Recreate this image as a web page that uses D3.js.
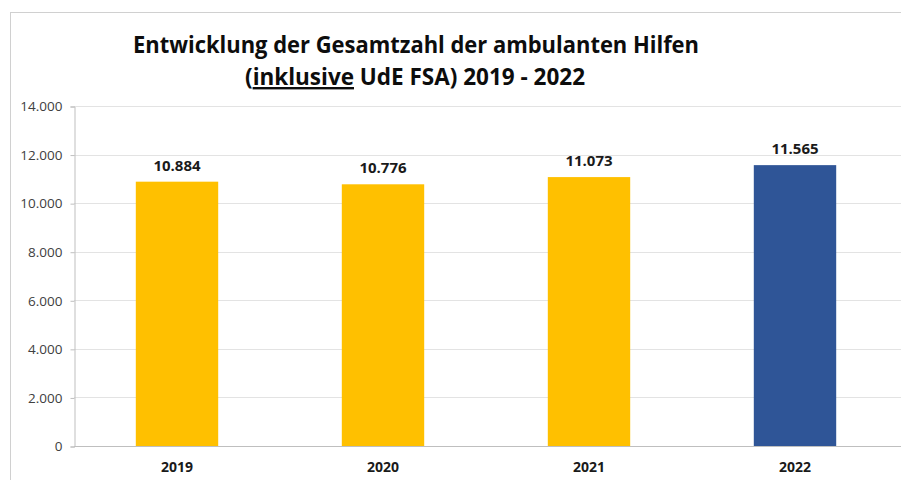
<!DOCTYPE html>
<html>
<head>
<meta charset="utf-8">
<script src="https://cdn.jsdelivr.net/npm/d3@7"></script>
<style>
    body { margin: 0; background: #fff; }
    svg { display: block; }
</style>
</head>
<body>
<div id="chart"></div>
<script>
// chart data
const years = ["2019", "2020", "2021", "2022"];
const totals = [10884, 10776, 11073, 11565];
const barColors = ["#FFC000", "#FFC000", "#FFC000", "#2F5597"];
const yTickValues = [0, 2000, 4000, 6000, 8000, 10000, 12000, 14000];
const titleLines = ["Entwicklung der Gesamtzahl der ambulanten Hilfen", "(inklusive UdE FSA) 2019 - 2022"];

const width = 901;
const height = 480;
const margin = { top: 106, right: 3, bottom: 34, left: 74 };
const font = "'Open Sans', 'Noto Sans', sans-serif";
const germanFmt = d3.formatLocale({ decimal: ",", thousands: ".", grouping: [3] }).format(",d");

const svg = d3.select("#chart")
    .append("svg")
    .attr("width", width)
    .attr("height", height);

// outer frame of the chart area
svg.append("rect")
    .attr("x", 10.5)
    .attr("y", 12.5)
    .attr("width", width + 20)
    .attr("height", height + 20)
    .attr("fill", "none")
    .attr("stroke", "#d0d0d0");

const x = d3.scaleBand()
    .domain(years)
    .range([margin.left, width - margin.right])
    .paddingInner(0.6)
    .paddingOuter(0.3);

const y = d3.scaleLinear()
    .domain([0, 14000])
    .range([height - margin.bottom, margin.top]);

// grid lines
svg.append("g")
    .selectAll("line")
    .data(yTickValues.filter(d => d > 0))
    .join("line")
    .attr("x1", margin.left)
    .attr("x2", width)
    .attr("y1", d => Math.round(y(d)) + 0.5)
    .attr("y2", d => Math.round(y(d)) + 0.5)
    .attr("stroke", "#e3e3e3");

// y axis
svg.append("g")
    .attr("transform", `translate(${margin.left + 0.5},0.5)`)
    .call(d3.axisLeft(y).tickValues(yTickValues).tickFormat(germanFmt).tickSize(4).tickPadding(8))
    .call(g => g.select(".domain").attr("stroke", "#bfbfbf"))
    .call(g => g.selectAll(".tick line").attr("stroke", "#bfbfbf"))
    .call(g => g.selectAll(".tick text")
        .attr("fill", "#404040")
        .attr("font-family", font)
        .attr("font-size", "13.5px"));

// bars
svg.append("g")
    .selectAll("rect")
    .data(years)
    .join("rect")
    .attr("x", d => x(d))
    .attr("y", (d, i) => y(totals[i]))
    .attr("width", x.bandwidth())
    .attr("height", (d, i) => y(0) - y(totals[i]))
    .attr("fill", (d, i) => barColors[i]);

// x axis baseline
svg.append("line")
    .attr("x1", margin.left)
    .attr("x2", width)
    .attr("y1", Math.round(y(0)) + 0.5)
    .attr("y2", Math.round(y(0)) + 0.5)
    .attr("stroke", "#bfbfbf");

// x labels
svg.append("g")
    .selectAll("text")
    .data(years)
    .join("text")
    .attr("x", d => x(d) + x.bandwidth() / 2)
    .attr("y", y(0) + 26)
    .attr("text-anchor", "middle")
    .attr("font-family", font)
    .attr("font-weight", "bold")
    .attr("font-size", "14px")
    .attr("fill", "#1a1a1a")
    .text(d => d);

// value labels
svg.append("g")
    .selectAll("text")
    .data(years)
    .join("text")
    .attr("x", d => x(d) + x.bandwidth() / 2)
    .attr("y", (d, i) => y(totals[i]) - 11)
    .attr("text-anchor", "middle")
    .attr("font-family", font)
    .attr("font-weight", "bold")
    .attr("font-size", "15px")
    .attr("fill", "#1a1a1a")
    .text((d, i) => germanFmt(totals[i]));

// title
const title = svg.append("g")
    .attr("font-family", font)
    .attr("font-weight", "bold")
    .attr("font-size", "24px")
    .attr("fill", "#0d0d0d")
    .attr("text-anchor", "middle");

title.append("text")
    .attr("x", 416)
    .attr("y", 53)
    .attr("textLength", 566)
    .attr("lengthAdjust", "spacingAndGlyphs")
    .text(titleLines[0]);

const line2 = title.append("text")
    .attr("x", 415)
    .attr("y", 85)
    .attr("textLength", 340)
    .attr("lengthAdjust", "spacingAndGlyphs");
line2.append("tspan").text("(");
line2.append("tspan").attr("text-decoration", "underline").text("inklusive");
line2.append("tspan").text(titleLines[1].slice(10));
</script>
</body>
</html>
